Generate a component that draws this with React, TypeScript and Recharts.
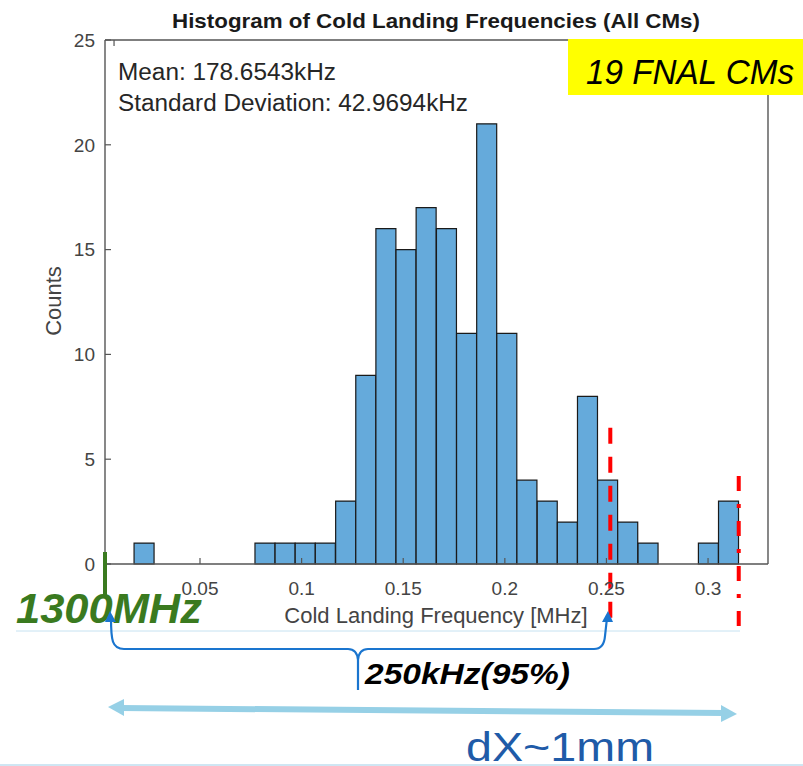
import { Bar, BarChart, ReferenceLine, XAxis, YAxis } from 'recharts';

// histogram bins (MHz) that hold at least one cavity, and their counts
const binCenters = [
  0.0225, 0.082, 0.0919, 0.1018, 0.1117, 0.1217, 0.1316, 0.1415, 0.1514, 0.1613, 0.1713, 0.1812,
  0.1911, 0.201, 0.2109, 0.2209, 0.2308, 0.2407, 0.2506, 0.2605, 0.2705, 0.3002, 0.3101,
];
const counts = [1, 1, 1, 1, 1, 3, 9, 16, 15, 17, 16, 11, 21, 11, 4, 3, 2, 8, 4, 2, 1, 1, 3];

const xTicks = [0.05, 0.1, 0.15, 0.2, 0.25, 0.3];
const yTicks = [0, 5, 10, 15, 20, 25];
const xDomain: [number, number] = [0.00325, 0.3295];
const yDomain: [number, number] = [0, 25];

// red marker lines drawn over the histogram: x (MHz), top and bottom in counts
const markerX = [0.2519, 0.3151];
const markerTop = [6.5, 4.2];
const markerBottom = [-3, -3.1];
const markerDash = ['16 13', '15 13 4 13'];

const data = binCenters.map((f, i) => ({ f, count: counts[i] }));

const FONT = '"Liberation Sans", Arial, Helvetica, sans-serif';
const AXIS = '#555';
const TXT = '#444';

function BottomTick(props: any) {
  const { x, y, payload } = props;
  const axisY = y - 18;
  return (
    <g>
      <line x1={x} x2={x} y1={axisY} y2={axisY - 6} stroke={AXIS} strokeWidth={1.2} />
      <text x={x} y={y} dy="0.7em" textAnchor="middle" fontSize={19} fill={TXT} fontFamily={FONT}>
        {payload.value}
      </text>
    </g>
  );
}

function LeftTick(props: any) {
  const { x, y, payload } = props;
  const axisX = x + 10;
  return (
    <g>
      <line x1={axisX} x2={axisX + 6} y1={y} y2={y} stroke={AXIS} strokeWidth={1.2} />
      <text x={x} y={y} dy="0.36em" textAnchor="end" fontSize={19} fill={TXT} fontFamily={FONT}>
        {payload.value}
      </text>
    </g>
  );
}

function TopTick(props: any) {
  const { x, y } = props;
  return <line x1={x} x2={x} y1={y} y2={y + 6} stroke={AXIS} strokeWidth={1.2} />;
}

function RightTick(props: any) {
  const { x, y } = props;
  return <line x1={x} x2={x - 6} y1={y} y2={y} stroke={AXIS} strokeWidth={1.2} />;
}

function Overlay() {
  const blue = '#1a75cf';
  const green = '#3a7a1f';
  return (
    <svg
      width={803}
      height={766}
      style={{ position: 'absolute', left: 0, top: 0, pointerEvents: 'none' }}
      fontFamily={FONT}
    >
      <text x={436} y={28} textAnchor="middle" fontSize={21} fontWeight="bold" fill="#1a1a1a" textLength={528} lengthAdjust="spacingAndGlyphs">
        Histogram of Cold Landing Frequencies (All CMs)
      </text>
      <text x={118} y={80} fontSize={23} fill="#262626" textLength={218} lengthAdjust="spacingAndGlyphs">
        Mean: 178.6543kHz
      </text>
      <text x={118} y={111} fontSize={23} fill="#262626" textLength={350} lengthAdjust="spacingAndGlyphs">
        Standard Deviation: 42.9694kHz
      </text>
      <text x={0} y={0} transform="translate(61 301) rotate(-90)" textAnchor="middle" fontSize={22} fill={TXT}>
        Counts
      </text>
      <text x={436} y={623} textAnchor="middle" fontSize={22} fill={TXT}>
        Cold Landing Frequency [MHz]
      </text>

      <rect x={568} y={39} width={235} height={56} fill="#ffff00" />
      <text x={586} y={84} fontSize={35} fontStyle="italic" fill="#000" textLength={208} lengthAdjust="spacingAndGlyphs">
        19 FNAL CMs
      </text>

      <line x1={16} x2={740} y1={631} y2={631} stroke="#c6e2f1" strokeWidth={1} />
      <line x1={0} x2={803} y1={765} y2={765} stroke="#cfe6f3" strokeWidth={2} />

      <line x1={105} x2={105} y1={552} y2={595} stroke={green} strokeWidth={4} />
      <text x={16} y={623} fontSize={42} fontStyle="italic" fontWeight="bold" fill={green} textLength={186} lengthAdjust="spacingAndGlyphs">
        1300MHz
      </text>

      <path
        d="M 111 618 C 111 640 112 649 124 649 L 348 649 Q 357 649 358 660 L 358 690 M 358 660 Q 359 649 368 649 L 594 649 Q 604 649 605 636 L 607 618"
        fill="none"
        stroke={blue}
        strokeWidth={2.2}
      />
      <polygon points="110,611 105,622 116,622" fill={blue} />
      <polygon points="608,611 602,622 613,622" fill={blue} />
      <text x={365} y={684} fontSize={30} fontStyle="italic" fontWeight="bold" fill="#000" textLength={205} lengthAdjust="spacingAndGlyphs">
        250kHz(95%)
      </text>

      <line x1={120} x2={724} y1={708} y2={713} stroke="#96d0e6" strokeWidth={6} />
      <polygon points="108,707 124,699 124,716" fill="#96d0e6" />
      <polygon points="737,714 721,705 721,722" fill="#96d0e6" />
      <text x={466} y={761} fontSize={40} fill="#1f5ba8" textLength={188} lengthAdjust="spacingAndGlyphs">
        dX~1mm
      </text>
    </svg>
  );
}

export default function App() {
  return (
    <div style={{ position: 'absolute', left: 0, top: 0, width: 803, height: 766, background: '#fff' }}>
      <BarChart
        width={803}
        height={766}
        data={data}
        margin={{ top: 39, right: 34, bottom: 162, left: 45 }}
        barCategoryGap={0}
        barGap={0}
      >
        <XAxis
          dataKey="f"
          type="number"
          domain={xDomain}
          allowDataOverflow
          ticks={xTicks}
          height={40}
          tickSize={0}
          tickMargin={18}
          tickLine={false}
          tick={<BottomTick />}
          axisLine={{ stroke: AXIS, strokeWidth: 1.4 }}
        />
        <XAxis
          xAxisId="top"
          orientation="top"
          type="number"
          domain={xDomain}
          allowDataOverflow
          ticks={xTicks}
          height={1}
          tickSize={0}
          tickMargin={0}
          tickLine={false}
          tick={<TopTick />}
          axisLine={{ stroke: AXIS, strokeWidth: 1.4 }}
        />
        <YAxis
          type="number"
          domain={yDomain}
          ticks={yTicks}
          width={60}
          tickSize={0}
          tickMargin={10}
          tickLine={false}
          tick={<LeftTick />}
          axisLine={{ stroke: AXIS, strokeWidth: 1.4 }}
        />
        <YAxis
          yAxisId="right"
          orientation="right"
          type="number"
          domain={yDomain}
          ticks={yTicks}
          width={1}
          tickSize={0}
          tickMargin={0}
          tickLine={false}
          tick={<RightTick />}
          axisLine={{ stroke: AXIS, strokeWidth: 1.4 }}
        />
        <Bar dataKey="count" fill="#65aadb" stroke="#1a1a1a" strokeWidth={1.2} isAnimationActive={false} />
        {markerX.map((mx, i) => (
          <ReferenceLine
            key={mx}
            segment={[
              { x: mx, y: markerTop[i] },
              { x: mx, y: markerBottom[i] },
            ]}
            stroke="#ff0000"
            strokeWidth={4}
            strokeDasharray={markerDash[i]}
            ifOverflow="visible"
          />
        ))}
      </BarChart>
      <Overlay />
    </div>
  );
}
